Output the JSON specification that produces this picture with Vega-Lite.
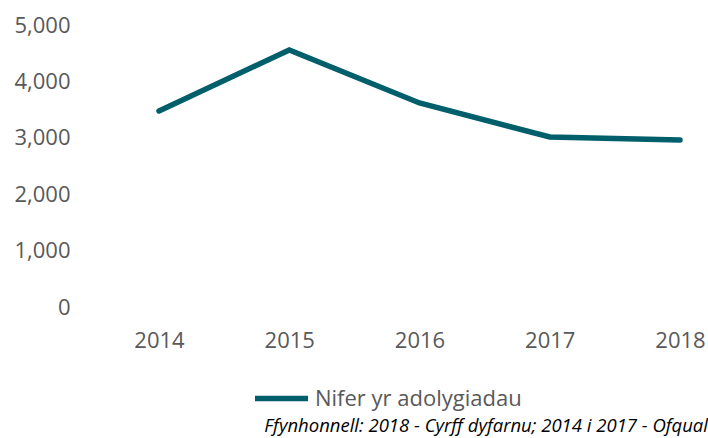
{
  "$schema": "https://vega.github.io/schema/vega-lite/v6.json",
  "width": 577,
  "height": 282,
  "autosize": {"type": "none"},
  "padding": {"left": 131, "top": 25, "right": 0, "bottom": 131},
  "background": "white",
  "view": {"stroke": null},
  "title": {
    "text": "Ffynhonnell: 2018 - Cyrff dyfarnu; 2014 i 2017 - Ofqual",
    "orient": "bottom",
    "anchor": "end",
    "fontStyle": "italic",
    "fontWeight": "normal",
    "fontSize": 18.5,
    "font": "Open Sans",
    "color": "#000000",
    "offset": 7
  },
  "data": {
    "values": [
      {"year": "2014", "series": "Nifer yr adolygiadau", "value": 3475},
      {"year": "2015", "series": "Nifer yr adolygiadau", "value": 4557},
      {"year": "2016", "series": "Nifer yr adolygiadau", "value": 3617},
      {"year": "2017", "series": "Nifer yr adolygiadau", "value": 3014},
      {"year": "2018", "series": "Nifer yr adolygiadau", "value": 2961}
    ]
  },
  "mark": {"type": "line", "strokeWidth": 5.5, "strokeCap": "round", "strokeJoin": "miter"},
  "encoding": {
    "x": {
      "field": "year",
      "type": "ordinal",
      "scale": {"type": "point", "padding": 0.215},
      "axis": {
        "title": null,
        "labelAngle": 0,
        "domain": false,
        "ticks": false,
        "grid": false,
        "labelFont": "Open Sans",
        "labelFontSize": 22,
        "labelColor": "#595959",
        "labelPadding": 23
      }
    },
    "y": {
      "field": "value",
      "type": "quantitative",
      "scale": {"domain": [0, 5000], "nice": false},
      "axis": {
        "title": null,
        "values": [0, 1000, 2000, 3000, 4000, 5000],
        "format": ",d",
        "domain": false,
        "ticks": false,
        "grid": false,
        "labelFont": "Open Sans",
        "labelFontSize": 22,
        "labelColor": "#595959",
        "labelPadding": 61
      }
    },
    "color": {
      "field": "series",
      "type": "nominal",
      "scale": {"range": ["#005F6B"]},
      "legend": {
        "title": null,
        "orient": "none",
        "legendX": 121,
        "legendY": 344,
        "symbolType": "stroke",
        "symbolStrokeWidth": 5.5,
        "symbolSize": 2809,
        "labelFont": "Open Sans",
        "labelFontSize": 22,
        "labelColor": "#595959",
        "labelOffset": 4,
        "labelLimit": 0,
        "padding": 0
      }
    }
  }
}
